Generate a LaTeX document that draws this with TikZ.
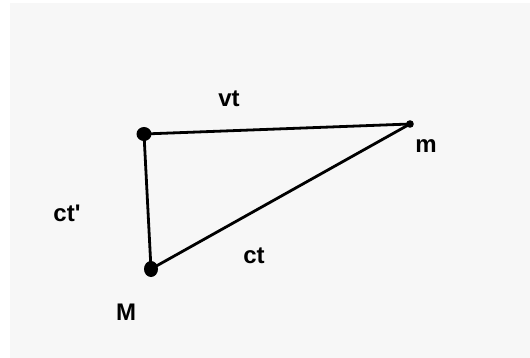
\documentclass[tikz,border=0pt]{standalone}
\usepackage{fontspec}
\setmainfont{Liberation Sans}
\begin{document}
\begin{tikzpicture}[x=1pt,y=-1pt,
  lbl/.style={font=\fontsize{24}{28}\selectfont\bfseries, inner sep=0pt},
  edge/.style={line width=2.8pt, black}]
\useasboundingbox (0,0) rectangle (530,358);
\fill[white] (0,0) rectangle (530,358);
\fill[black!3] (10,3) rectangle (530,358);
\coordinate (A) at (144,134);
\coordinate (m) at (410,124);
\coordinate (M) at (151,269);
\draw[edge] (A) -- (m);
\draw[edge] (A) -- (M);
\draw[edge] (M) -- (m);
\fill (A) ellipse [x radius=7.5, y radius=7];
\fill (M) ellipse [x radius=7, y radius=8];
\fill (m) circle [radius=3.8];
\node[lbl] (lvt) at (229,99) {vt};
\node[lbl] (lm) at (426,146) {m};
\node[lbl] (lctp) at (67,213) {ct\textquotesingle};
\node[lbl] (lct) at (254,256) {ct};
\node[lbl] (lM) at (126,312) {M};
\end{tikzpicture}
\end{document}
